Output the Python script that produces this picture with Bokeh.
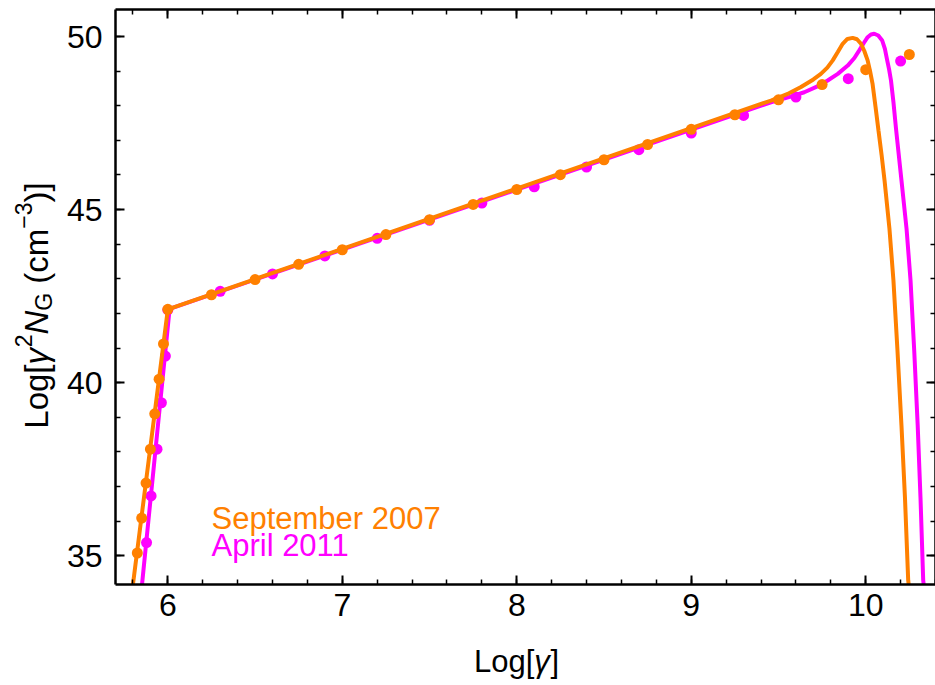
import math
from bokeh.plotting import figure
from bokeh.models import Range1d, LinearAxis, SingleIntervalTicker, Label, CustomJSTickFormatter
from bokeh.embed import file_html
from bokeh.resources import INLINE

ORANGE = "#FF8000"
MAGENTA = "#FF00FF"
FONT = "Liberation Sans"

# ---- data: September 2007 (orange) ----
sep_pts_x = [5.825, 5.85, 5.875, 5.9, 5.925, 5.95, 5.975, 6.0, 6.25, 6.5, 6.75, 7.0, 7.25,
             7.5, 7.75, 8.0, 8.25, 8.5, 8.75, 9.0, 9.25, 9.5, 9.75, 10.0, 10.25]
sep_pts_y = [35.08, 36.09, 37.10, 38.08, 39.10, 40.10, 41.12, 42.12, 42.54, 42.98, 43.42, 43.84,
             44.28, 44.71, 45.15, 45.58, 46.01, 46.44, 46.88, 47.32, 47.74, 48.17, 48.61, 49.04, 49.48]
sep_line_x = [5.800, 6.000, 9.457, 9.560, 9.629, 9.700, 9.743, 9.780, 9.811, 9.840, 9.868, 9.895,
              9.925, 9.950, 9.973, 9.992, 10.011, 10.025, 10.039, 10.056, 10.073, 10.091, 10.108,
              10.136, 10.159, 10.182, 10.205, 10.225, 10.2435, 10.2464]
sep_line_y = [34.17, 42.12, 48.15, 48.36, 48.54, 48.76, 48.92, 49.10, 49.31, 49.55, 49.79, 49.93,
              49.96, 49.92, 49.79, 49.58, 49.31, 49.00, 48.64, 47.98, 47.29, 46.58, 45.84,
              44.45, 42.95, 40.93, 38.76, 36.68, 34.29, 34.17]

# ---- data: April 2011 (magenta) ----
apr_pts_x = [5.878, 5.904, 5.938, 5.963, 5.986, 6.0, 6.3, 6.6, 6.9, 7.2, 7.5, 7.8, 8.1, 8.4,
             8.7, 9.0, 9.3, 9.6, 9.9, 10.2]
apr_pts_y = [35.38, 36.73, 38.08, 39.42, 40.77, 42.10, 42.64, 43.14, 43.66, 44.17, 44.69, 45.19,
             45.66, 46.23, 46.73, 47.21, 47.72, 48.25, 48.78, 49.29]
apr_line_x = [5.852, 6.010, 9.457, 9.560, 9.648, 9.720, 9.782, 9.840, 9.897, 9.935, 9.963, 9.990,
              10.011, 10.030, 10.049, 10.072, 10.0945, 10.110, 10.1232, 10.134, 10.1449, 10.159,
              10.1736, 10.205, 10.234, 10.257, 10.278, 10.298, 10.314, 10.3295, 10.3324]
apr_line_y = [34.17, 42.13, 48.10, 48.25, 48.39, 48.55, 48.73, 48.92, 49.16, 49.38, 49.60, 49.82,
              49.98, 50.06, 50.08, 50.03, 49.885, 49.64, 49.31, 49.05, 48.73, 48.10,
              47.34, 45.84, 44.45, 42.95, 40.93, 38.76, 36.68, 34.29, 34.17]

series_names = ["September 2007", "April 2011"]

# visible frame (data limits)
X0, X1 = 5.7, 10.4
Y0, Y1 = 34.17, 50.78
W, H = 935, 685
# pixel box of the visible frame inside the canvas
PL, PR, PT, PB = 115, 935, 9, 584

kx = (X1 - X0) / (PR - PL)
ky = (Y1 - Y0) / (PB - PT)
XA = X0 - PL * kx
YA = Y1 + PT * ky


def dx(px):
    return XA + px * kx


def dy(py):
    return YA - py * ky


p = figure(width=W, height=H, output_backend="svg", toolbar_location=None,
           x_range=Range1d(dx(0), dx(W)), y_range=Range1d(dy(H), dy(0)),
           x_axis_location=None, y_axis_location=None,
           min_border_left=0, min_border_right=0, min_border_top=0, min_border_bottom=0)
p.grid.grid_line_color = None
p.outline_line_color = None
p.background_fill_color = "white"
p.border_fill_color = "white"


def make_axis(loc, interval, bounds, labels, standoff=0):
    ax = LinearAxis(fixed_location=loc, bounds=bounds,
                    ticker=SingleIntervalTicker(interval=interval, num_minor_ticks=5))
    ax.axis_line_color = "black"
    ax.axis_line_width = 2.5
    ax.major_tick_in = 9
    ax.major_tick_out = 0
    ax.minor_tick_in = 5
    ax.minor_tick_out = 0
    ax.major_tick_line_width = 2
    ax.minor_tick_line_width = 1.5
    ax.major_tick_line_color = "black"
    ax.minor_tick_line_color = "black"
    if labels:
        ax.major_label_text_font = FONT
        ax.major_label_text_font_size = "32px"
        ax.major_label_text_color = "black"
        ax.major_label_standoff = standoff
    else:
        ax.formatter = CustomJSTickFormatter(code="return ''")
        ax.major_label_standoff = 0
    return ax


p.add_layout(make_axis(Y0, 1, (X0, X1), True, 9), "below")
p.add_layout(make_axis(X0, 5, (Y0, Y1), True, 13), "left")
p.add_layout(make_axis(Y1, 1, (X0, X1), False), "above")
p.add_layout(make_axis(X1, 5, (Y0, Y1), False), "right")

# curves and points
p.line(apr_line_x, apr_line_y, line_color=MAGENTA, line_width=4)
p.scatter(apr_pts_x, apr_pts_y, size=11, fill_color=MAGENTA, line_color=None)
p.line(sep_line_x, sep_line_y, line_color=ORANGE, line_width=4)
p.scatter(sep_pts_x, sep_pts_y, size=11, fill_color=ORANGE, line_color=None)

# legend-like texts
p.add_layout(Label(x=dx(211), y=dy(518), text=series_names[0], text_color=ORANGE,
                   text_font=FONT, text_font_size="31px", text_baseline="alphabetic"))
p.add_layout(Label(x=dx(211), y=dy(545), text=series_names[1], text_color=MAGENTA,
                   text_font=FONT, text_font_size="31px", text_baseline="alphabetic"))

# x-axis title: Log[γ]
FX = 31
xpieces = [("Log[", "normal", 1.946 * FX), ("γ", "italic", 0.52 * FX), ("]", "normal", 0.278 * FX)]
total = sum(pc[2] for pc in xpieces)
cx = 516 - total / 2
for txt, st, adv in xpieces:
    p.add_layout(Label(x=dx(cx), y=dy(661), text=txt, text_font=FONT,
                       text_font_size=f"{FX}px", text_font_style=st, text_color="black",
                       text_baseline="alphabetic", text_align="left"))
    cx += adv

# y-axis title: Log[γ^2 N_G (cm^-3)], rotated
F = 33
S = 23
ypieces = [("Log[", F, "normal", 0, 1.946 * F), ("γ", F, "italic", 0, 0.52 * F),
           ("2", S, "normal", 13, 0.556 * S), ("N", F, "italic", 0, 0.722 * F),
           ("G", S, "normal", -7, 0.778 * S + 0.278 * F), ("(cm", F, "normal", 0, 1.666 * F),
           ("−3", S, "normal", 13, 1.14 * S), (")]", F, "normal", 0, 0.611 * F)]
total = sum(pc[4] for pc in ypieces)
cy = 305 + total / 2
xb = 36
for txt, fs, st, shift, adv in ypieces:
    p.add_layout(Label(x=dx(xb - shift), y=dy(cy), text=txt, text_font=FONT,
                       text_font_size=f"{fs}px", text_font_style=st, text_color="black",
                       text_baseline="alphabetic", text_align="left",
                       angle=math.pi / 2, angle_units="rad"))
    cy -= adv

open("out.html", "w").write(file_html(p, INLINE))
